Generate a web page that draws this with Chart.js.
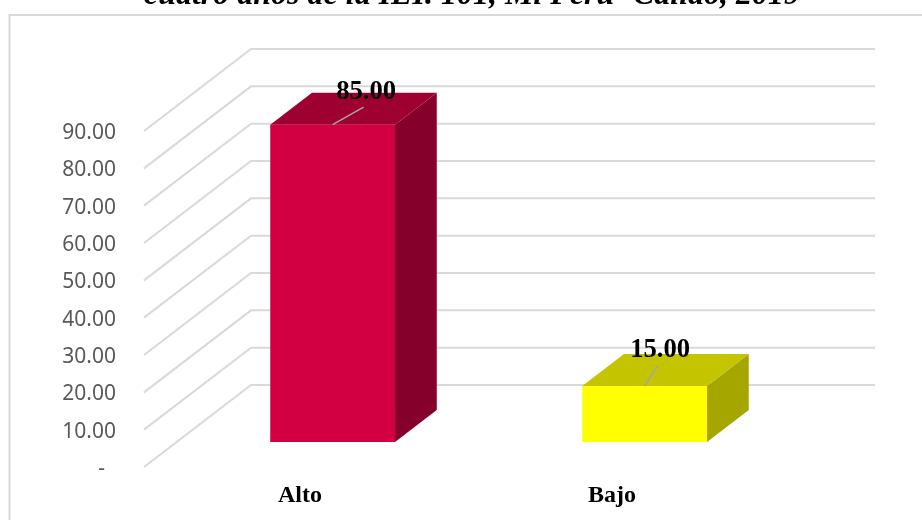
<!DOCTYPE html>
<html>
<head>
<meta charset="utf-8">
<style>html,body{margin:0;padding:0;background:#fff;overflow:hidden}canvas{display:block}</style>
<script src="https://cdn.jsdelivr.net/npm/chart.js@4"></script>
</head>
<body>
<canvas id="c" width="922" height="520"></canvas>
<script>
const titleText = 'cuatro años de la IEI. 101, Mi Perú- Callao, 2019';
const categories = ['Alto', 'Bajo'];
const values = [85, 15];
const valueLabels = ['85.00', '15.00'];
const yTicks = ['-  ', '10.00', '20.00', '30.00', '40.00', '50.00', '60.00', '70.00', '80.00', '90.00'];
const frontColors = ['#D20042', '#FFFF00'];
const topColors = ['#9F0032', '#C4C400'];
const sideColors = ['#85002A', '#A6A600'];

const DX = 107, DY = 82, GRID_END = 875;
const FRONT = 0.305, DEPTH = 0.39;
const labelOffsets = [[33.5, -33], [15.5, -36]];
const leaderEnds = [[31, -17.5], [13, -20]];

const box3d = {
  id: 'box3d',
  beforeDraw(chart) {
    const c = chart.ctx;
    c.save();
    c.fillStyle = '#fff';
    c.fillRect(0, 0, chart.width, chart.height);
    c.strokeStyle = '#d9d9d9';
    c.lineWidth = 2;
    c.beginPath();
    c.moveTo(9.5, chart.height);
    c.lineTo(9.5, 15);
    c.lineTo(chart.width, 15);
    c.stroke();
    c.restore();
  },
  beforeDatasetsDraw(chart) {
    const c = chart.ctx, y = chart.scales.y, a = chart.chartArea;
    c.save();
    c.strokeStyle = '#d9d9d9';
    c.lineWidth = 2;
    yTicks.forEach((_, i) => {
      const p = y.getPixelForValue(i * 10);
      c.beginPath();
      c.moveTo(a.left, p);
      c.lineTo(a.left + DX, p - DY);
      c.lineTo(GRID_END, p - DY);
      c.stroke();
    });
    c.restore();
  },
  beforeDatasetDraw(chart, args) {
    const c = chart.ctx;
    c.save();
    c.translate(DX * FRONT, -DY * FRONT);
    const dx = DX * DEPTH, dy = DY * DEPTH;
    args.meta.data.forEach((bar, i) => {
      const l = bar.x - bar.width / 2, r = bar.x + bar.width / 2, t = bar.y, b = bar.base;
      c.fillStyle = sideColors[i];
      c.beginPath();
      c.moveTo(r, t); c.lineTo(r + dx, t - dy); c.lineTo(r + dx, b - dy); c.lineTo(r, b);
      c.closePath(); c.fill();
      c.fillStyle = topColors[i];
      c.beginPath();
      c.moveTo(l, t); c.lineTo(l + dx, t - dy); c.lineTo(r + dx, t - dy); c.lineTo(r, t);
      c.closePath(); c.fill();
    });
  },
  afterDatasetDraw(chart) {
    chart.ctx.restore();
  },
  afterDatasetsDraw(chart) {
    const c = chart.ctx, meta = chart.getDatasetMeta(0);
    const ox = DX * FRONT, oy = -DY * FRONT;
    c.save();
    meta.data.forEach((bar, i) => {
      const x = bar.x + ox, t = bar.y + oy;
      c.strokeStyle = '#a6a6a6';
      c.lineWidth = 1.5;
      c.beginPath();
      c.moveTo(x, t);
      c.lineTo(x + leaderEnds[i][0], t + leaderEnds[i][1]);
      c.stroke();
      c.fillStyle = '#000';
      c.font = 'bold 26.67px "Liberation Serif"';
      c.textAlign = 'center';
      c.textBaseline = 'middle';
      c.fillText(valueLabels[i], x + labelOffsets[i][0], t + labelOffsets[i][1]);
    });
    c.restore();
  }
};

new Chart(document.getElementById('c'), {
  type: 'bar',
  data: {
    labels: categories,
    datasets: [{
      data: values,
      backgroundColor: frontColors,
      borderWidth: 0,
      barPercentage: 0.4,
      categoryPercentage: 1,
      clip: false
    }]
  },
  options: {
    responsive: false,
    animation: false,
    layout: { padding: { left: 22, right: 0, top: 0, bottom: 0 } },
    plugins: {
      legend: { display: false },
      tooltip: { enabled: false },
      title: {
        display: true,
        text: titleText,
        align: 'center',
        color: '#000',
        font: { family: '"Liberation Serif"', size: 32, style: 'italic', weight: 'bold', lineHeight: 1.2 },
        padding: { top: -23, bottom: 115.6 }
      }
    },
    scales: {
      x: {
        grid: { display: false },
        border: { display: false },
        ticks: {
          color: '#000',
          padding: 6,
          maxRotation: 0,
          font: { family: '"Liberation Serif"', size: 24, weight: 'bold' }
        },
        afterFit(s) { s.height = 53; }
      },
      y: {
        min: 0,
        max: 90,
        grid: { display: false, drawTicks: false },
        border: { display: false },
        ticks: {
          stepSize: 10,
          color: '#595959',
          padding: 28,
          labelOffset: 2,
          font: { family: '"Noto Sans"', size: 21 },
          callback(v) { return yTicks[Math.round(v / 10)]; }
        },
        afterFit(s) { s.width = 122; }
      },
      rightGutter: {
        position: 'right',
        grid: { display: false, drawTicks: false },
        border: { display: false },
        ticks: { display: false },
        afterFit(s) { s.width = 154; }
      }
    }
  },
  plugins: [box3d]
});
</script>
</body>
</html>
